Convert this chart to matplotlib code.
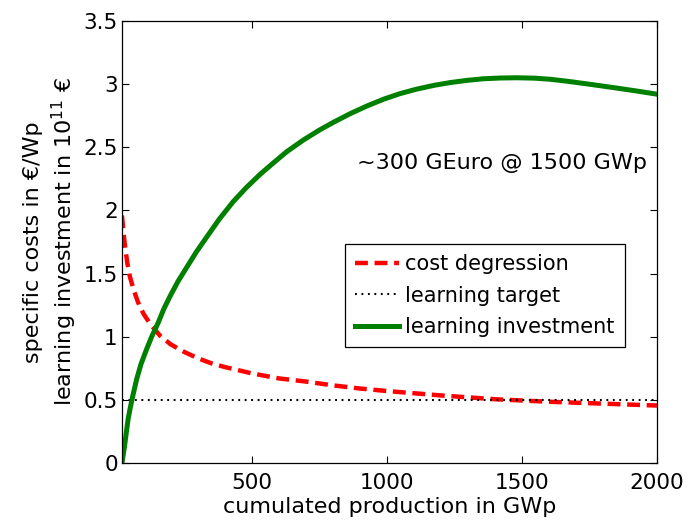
import matplotlib
matplotlib.use('Agg')
import matplotlib.pyplot as plt

cost_x = [20, 25, 30, 35, 40, 50, 65, 80, 100, 125, 160, 200, 250, 300, 350, 400,
          500, 600, 700, 800, 900, 1000, 1200, 1400, 1600, 1800, 2000]
cost_y = [1.96, 1.84, 1.74, 1.66, 1.58, 1.47, 1.36, 1.27, 1.18, 1.10, 1.01, 0.94,
          0.88, 0.83, 0.79, 0.76, 0.71, 0.67, 0.645, 0.615, 0.59, 0.57, 0.535,
          0.505, 0.485, 0.47, 0.455]

invest_x = [20, 25, 30, 36, 43, 51, 60, 74, 90, 111, 130, 154, 175, 198, 228, 260,
            295, 334, 380, 432, 480, 531, 580, 630, 690, 750, 805, 864, 925, 988,
            1050, 1111, 1175, 1235, 1300, 1358, 1420, 1482, 1545, 1605, 1670, 1729,
            1790, 1852, 1925, 2000]
invest_y = [0.0, 0.07, 0.14, 0.24, 0.35, 0.44, 0.53, 0.66, 0.78, 0.90, 1.00, 1.11,
            1.22, 1.32, 1.44, 1.55, 1.67, 1.79, 1.93, 2.07, 2.18, 2.285, 2.375, 2.465,
            2.555, 2.635, 2.70, 2.765, 2.825, 2.88, 2.925, 2.96, 2.99, 3.012, 3.03,
            3.042, 3.048, 3.05, 3.047, 3.038, 3.022, 3.005, 2.987, 2.968, 2.945, 2.92]

target_x = [20, 2000]
target_y = [0.5, 0.5]

xticks = [500, 1000, 1500, 2000]
yticks = [0, 0.5, 1, 1.5, 2, 2.5, 3, 3.5]
ytick_labels = ['0', '0.5', '1', '1.5', '2', '2.5', '3', '3.5']

fig = plt.figure(figsize=(6.89, 5.23), dpi=100)
ax = fig.add_axes([0.177, 0.1147, 0.7765, 0.8453])

ax.plot(cost_x, cost_y, color='red', lw=3.2, dashes=(2.9, 1.5), label='cost degression')
ax.plot(target_x, target_y, color='black', lw=1.5, dashes=(0.9, 2.2), label='learning target')
ax.plot(invest_x, invest_y, color='green', lw=3.6, label='learning investment')

ax.set_xlim(20, 2000)
ax.set_ylim(0, 3.5)
ax.set_xticks(xticks)
ax.set_yticks(yticks)
ax.set_yticklabels(ytick_labels)
ax.tick_params(direction='in', length=5, width=0.8, top=True, right=True, labelsize=15.5)
ax.tick_params(axis='x', pad=7)
ax.tick_params(axis='y', pad=3)
for s in ax.spines.values():
    s.set_linewidth(0.9)

ax.set_xlabel('cumulated production in GWp', fontsize=16, labelpad=3)
ax.set_ylabel('specific costs in €/Wp\nlearning investment in 10$^{11}$ €',
              fontsize=16, linespacing=1.3, labelpad=3)

ax.text(890, 2.375, '~300 GEuro @ 1500 GWp', fontsize=16, ha='left', va='center')

leg = ax.legend(loc='upper right', bbox_to_anchor=(0.940, 0.4955), borderaxespad=0,
                fontsize=15, fancybox=False, framealpha=1, edgecolor='black',
                handlelength=2.1, handletextpad=0.3, labelspacing=0.54, borderpad=0.5)
leg.get_frame().set_linewidth(0.9)

fig.savefig('out.png', dpi=100)
